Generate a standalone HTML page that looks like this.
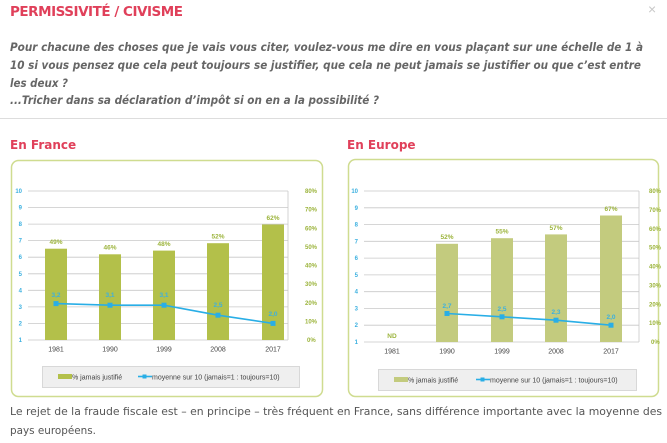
<!DOCTYPE html>
<html><head><meta charset="utf-8"><style>
html,body{margin:0;padding:0;background:#fff;width:667px;height:443px;overflow:hidden}
svg{display:block}
</style></head><body>
<svg width="667" height="443" viewBox="0 0 667 443" xmlns="http://www.w3.org/2000/svg" font-family="Liberation Sans, sans-serif">
<text x="10" y="16" font-size="13.5" font-weight="bold" fill="#e0405a" font-family="DejaVu Sans, sans-serif" textLength="173">PERMISSIVITÉ / CIVISME</text>
<text x="648" y="14" font-size="14" fill="#c8c8c8">×</text>
<g font-family="DejaVu Sans, sans-serif" font-size="11.5" font-weight="bold" font-style="italic" fill="#666">
<text x="10" y="51" textLength="633" lengthAdjust="spacingAndGlyphs">Pour chacune des choses que je vais vous citer, voulez-vous me dire en vous plaçant sur une échelle de 1 à</text>
<text x="10" y="69" textLength="631" lengthAdjust="spacingAndGlyphs">10 si vous pensez que cela peut toujours se justifier, que cela ne peut jamais se justifier ou que c’est entre</text>
<text x="10" y="87" textLength="58" lengthAdjust="spacingAndGlyphs">les deux ?</text>
<text x="10" y="104" textLength="369" lengthAdjust="spacingAndGlyphs">...Tricher dans sa déclaration d’impôt si on en a la possibilité ?</text>
</g>
<line x1="0" y1="118.5" x2="667" y2="118.5" stroke="#ddd"/>
<text x="10" y="149" font-size="12" font-weight="bold" fill="#e0405a" font-family="DejaVu Sans, sans-serif">En France</text>
<text x="347" y="149" font-size="12" font-weight="bold" fill="#e0405a" font-family="DejaVu Sans, sans-serif">En Europe</text>

<!-- France panel -->
<rect x="11.5" y="160.5" width="311" height="236" rx="7" fill="#fff" stroke="#cfdc90" stroke-width="1.5"/>
<g stroke="#c8c8c8" stroke-width="0.8">
<line x1="28" x2="288" y1="340" y2="340"/><line x1="28" x2="288" y1="323.4" y2="323.4"/><line x1="28" x2="288" y1="306.9" y2="306.9"/><line x1="28" x2="288" y1="290.3" y2="290.3"/><line x1="28" x2="288" y1="273.8" y2="273.8"/><line x1="28" x2="288" y1="257.2" y2="257.2"/><line x1="28" x2="288" y1="240.6" y2="240.6"/><line x1="28" x2="288" y1="224.1" y2="224.1"/><line x1="28" x2="288" y1="207.5" y2="207.5"/><line x1="28" x2="288" y1="191" y2="191"/>
<line x1="288" x2="288" y1="191" y2="340"/>
</g>
<g fill="#3bb0e0" font-size="6" font-weight="bold" text-anchor="end">
<text x="22" y="342">1</text><text x="22" y="325.4">2</text><text x="22" y="308.9">3</text><text x="22" y="292.3">4</text><text x="22" y="275.8">5</text><text x="22" y="259.2">6</text><text x="22" y="242.6">7</text><text x="22" y="226.1">8</text><text x="22" y="209.5">9</text><text x="22" y="193">10</text>
</g>
<g fill="#9cb43c" font-size="6" font-weight="bold">
<text x="307" y="342">0%</text><text x="305" y="323.4">10%</text><text x="305" y="304.8">20%</text><text x="305" y="286.1">30%</text><text x="305" y="267.5">40%</text><text x="305" y="248.9">50%</text><text x="305" y="230.3">60%</text><text x="305" y="211.6">70%</text><text x="305" y="193">80%</text>
</g>
<g fill="#b3c04a">
<rect x="45" y="248.7" width="22" height="91.3"/><rect x="99" y="254.3" width="22" height="85.7"/><rect x="153" y="250.6" width="22" height="89.4"/><rect x="207" y="243.2" width="22" height="96.8"/><rect x="262" y="224.5" width="22" height="115.5"/>
</g>
<g fill="#9cb43c" font-size="6.5" font-weight="bold" text-anchor="middle">
<text x="56" y="244">49%</text><text x="110" y="249.5">46%</text><text x="164" y="246">48%</text><text x="218" y="238.5">52%</text><text x="273" y="220">62%</text>
</g>
<polyline points="56,303.6 110,305.2 164,305.2 218,315.2 273,323.4" fill="none" stroke="#29aee6" stroke-width="1.6"/>
<g fill="#29aee6"><rect x="53.5" y="301.1" width="5" height="5"/><rect x="107.5" y="302.7" width="5" height="5"/><rect x="161.5" y="302.7" width="5" height="5"/><rect x="215.5" y="312.7" width="5" height="5"/><rect x="270.5" y="320.9" width="5" height="5"/></g>
<g fill="#3bb0e0" font-size="6.5" font-weight="bold" text-anchor="middle">
<text x="56" y="297">3,2</text><text x="110" y="297">3,1</text><text x="164" y="297">3,1</text><text x="218" y="307">2,5</text><text x="273" y="316">2,0</text>
</g>
<g fill="#444" font-size="7" text-anchor="middle">
<text x="56" y="351.5">1981</text><text x="110" y="351.5">1990</text><text x="164" y="351.5">1999</text><text x="218" y="351.5">2008</text><text x="273" y="351.5">2017</text>
</g>
<rect x="42.5" y="366.5" width="257" height="21" fill="#efefef" stroke="#d8d8d8"/>
<rect x="58" y="374" width="14" height="5" fill="#b3c04a"/>
<text x="72" y="379.5" font-size="7" fill="#444">% jamais justifié</text>
<line x1="138" x2="152" y1="376.5" y2="376.5" stroke="#29aee6" stroke-width="1.6"/><rect x="142.5" y="374.5" width="4" height="4" fill="#29aee6"/>
<text x="152" y="379.5" font-size="7" fill="#444">moyenne sur 10 (jamais=1 : toujours=10)</text>

<!-- Europe panel -->
<rect x="348.5" y="159.5" width="310" height="237" rx="7" fill="#fff" stroke="#cfdc90" stroke-width="1.5"/>
<g stroke="#c8c8c8" stroke-width="0.8">
<line x1="364" x2="639" y1="342" y2="342"/><line x1="364" x2="639" y1="325.2" y2="325.2"/><line x1="364" x2="639" y1="308.4" y2="308.4"/><line x1="364" x2="639" y1="291.7" y2="291.7"/><line x1="364" x2="639" y1="274.9" y2="274.9"/><line x1="364" x2="639" y1="258.1" y2="258.1"/><line x1="364" x2="639" y1="241.3" y2="241.3"/><line x1="364" x2="639" y1="224.5" y2="224.5"/><line x1="364" x2="639" y1="207.8" y2="207.8"/><line x1="364" x2="639" y1="191" y2="191"/>
<line x1="639" x2="639" y1="191" y2="342"/>
</g>
<g fill="#3bb0e0" font-size="6" font-weight="bold" text-anchor="end">
<text x="358" y="344">1</text><text x="358" y="327.2">2</text><text x="358" y="310.4">3</text><text x="358" y="293.7">4</text><text x="358" y="276.9">5</text><text x="358" y="260.1">6</text><text x="358" y="243.3">7</text><text x="358" y="226.5">8</text><text x="358" y="209.8">9</text><text x="358" y="193">10</text>
</g>
<g fill="#9cb43c" font-size="6" font-weight="bold">
<text x="651" y="344">0%</text><text x="649" y="325.1">10%</text><text x="649" y="306.3">20%</text><text x="649" y="287.4">30%</text><text x="649" y="268.5">40%</text><text x="649" y="249.6">50%</text><text x="649" y="230.8">60%</text><text x="649" y="211.9">70%</text><text x="649" y="193">80%</text>
</g>
<g fill="#c3cb7e">
<rect x="436" y="243.8" width="22" height="98.2"/><rect x="491" y="238.2" width="22" height="103.8"/><rect x="545" y="234.4" width="22" height="107.6"/><rect x="600" y="215.5" width="22" height="126.5"/>
</g>
<g fill="#9cb43c" font-size="6.5" font-weight="bold" text-anchor="middle">
<text x="392" y="338">ND</text><text x="447" y="239">52%</text><text x="502" y="233.5">55%</text><text x="556" y="230">57%</text><text x="611" y="211">67%</text>
</g>
<polyline points="447,313.5 502,316.8 556,320.2 611,325.2" fill="none" stroke="#29aee6" stroke-width="1.6"/>
<g fill="#29aee6"><rect x="444.5" y="311" width="5" height="5"/><rect x="499.5" y="314.3" width="5" height="5"/><rect x="553.5" y="317.7" width="5" height="5"/><rect x="608.5" y="322.7" width="5" height="5"/></g>
<g fill="#3bb0e0" font-size="6.5" font-weight="bold" text-anchor="middle">
<text x="447" y="308">2,7</text><text x="502" y="311">2,5</text><text x="556" y="314">2,3</text><text x="611" y="319">2,0</text>
</g>
<g fill="#444" font-size="7" text-anchor="middle">
<text x="392" y="353.5">1981</text><text x="447" y="353.5">1990</text><text x="502" y="353.5">1999</text><text x="556" y="353.5">2008</text><text x="611" y="353.5">2017</text>
</g>
<rect x="378.5" y="369.5" width="258" height="21" fill="#efefef" stroke="#d8d8d8"/>
<rect x="394" y="377" width="14" height="5" fill="#c3cb7e"/>
<text x="408" y="382.5" font-size="7" fill="#444">% jamais justifié</text>
<line x1="476" x2="490" y1="379.5" y2="379.5" stroke="#29aee6" stroke-width="1.6"/><rect x="480.5" y="377.5" width="4" height="4" fill="#29aee6"/>
<text x="490" y="382.5" font-size="7" fill="#444">moyenne sur 10 (jamais=1 : toujours=10)</text>

<g font-family="DejaVu Sans, sans-serif" font-size="11" fill="#555">
<text x="10" y="415" textLength="652" lengthAdjust="spacingAndGlyphs">Le rejet de la fraude fiscale est – en principe – très fréquent en France, sans différence importante avec la moyenne des</text>
<text x="10" y="434" textLength="86" lengthAdjust="spacingAndGlyphs">pays européens.</text>
</g>
</svg>
</body></html>
